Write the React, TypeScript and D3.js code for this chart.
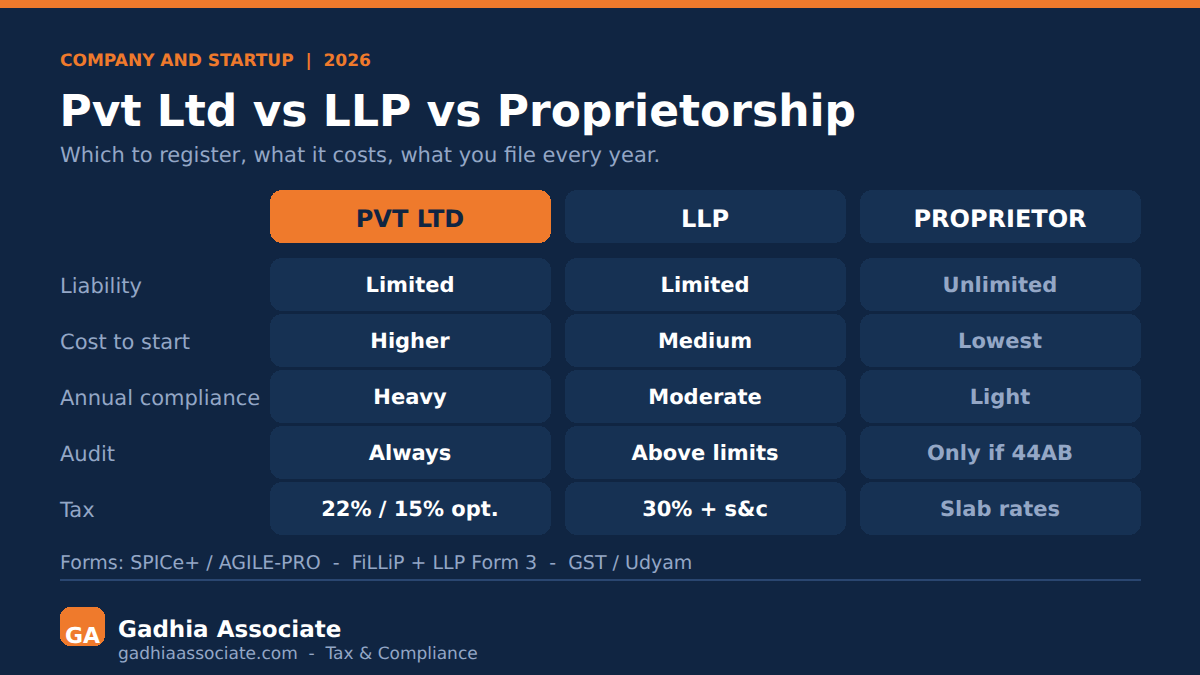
import React from "react";
import * as d3 from "d3";

const rowLabels = ["Liability", "Cost to start", "Annual compliance", "Audit", "Tax"];
const columns = ["PVT LTD", "LLP", "PROPRIETOR"];
const pvt = ["Limited", "Higher", "Heavy", "Always", "22% / 15% opt."];
const llp = ["Limited", "Medium", "Moderate", "Above limits", "30% + s&c"];
const prop = ["Unlimited", "Lowest", "Light", "Only if 44AB", "Slab rates"];
const series = [pvt, llp, prop];

const F = "'DejaVu Sans', sans-serif";
const BG = "#102542";
const CELL = "#163153";
const ORANGE = "#ef7a2c";
const MUTED = "#94a7c6";

const x = d3.scaleBand<number>().domain([0, 1, 2]).range([270, 1141]).paddingInner(14 / 295).paddingOuter(0);
const y = d3.scalePoint<number>().domain([0, 1, 2, 3, 4]).range([258, 482]);
const cellH = 53;

export default function App() {
  return (
    <svg width={1200} height={675} viewBox="0 0 1200 675" style={{ position: "fixed", left: 0, top: 0 }} fontFamily={F} textRendering="geometricPrecision">
      <rect width={1200} height={675} fill={BG} />
      <rect width={1200} height={8} fill={ORANGE} />
      <text x={60} y={66} fontSize={17} fontWeight={700} fill={ORANGE} xmlSpace="preserve">COMPANY AND STARTUP  |  2026</text>
      <text x={59.5} y={126} fontSize={44} fontWeight={700} fill="#fff">Pvt Ltd vs LLP vs Proprietorship</text>
      <text x={60} y={162} fontSize={21} fill={MUTED}>Which to register, what it costs, what you file every year.</text>
      {columns.map((c, i) => (
        <g key={c}>
          <rect x={x(i)} y={190} width={x.bandwidth()} height={53} rx={12} fill={i === 0 ? ORANGE : CELL} shapeRendering="crispEdges" />
          <text x={x(i)! + x.bandwidth() / 2 - 0.5} y={227} textAnchor="middle" fontSize={24} fontWeight={700} fill={i === 0 ? BG : "#fff"}>{c}</text>
        </g>
      ))}
      {rowLabels.map((r, j) => (
        <text key={r} x={60} y={y(j)! + 35} fontSize={21} fill={MUTED}>{r}</text>
      ))}
      {series.map((vals, i) => vals.map((v, j) => (
        <g key={i + "-" + j}>
          <rect x={x(i)} y={y(j)} width={x.bandwidth()} height={cellH} rx={12} fill={CELL} shapeRendering="crispEdges" />
          <text x={x(i)! + x.bandwidth() / 2 - 0.5} y={y(j)! + 34} textAnchor="middle" fontSize={21} fontWeight={700} fill={i === 2 ? MUTED : "#fff"}>{v}</text>
        </g>
      )))}
      <text x={60} y={569} fontSize={19} fill={MUTED} xmlSpace="preserve">Forms: SPICe+ / AGILE-PRO  -  FiLLiP + LLP Form 3  -  GST / Udyam</text>
      <line x1={60} x2={1141} y1={580} y2={580} stroke="#2a4670" strokeWidth={2} />
      <rect x={60} y={607} width={45} height={39} rx={10} fill={ORANGE} shapeRendering="crispEdges" />
      <text x={82.5} y={643} textAnchor="middle" fontSize={22} fontWeight={700} fill="#fff">GA</text>
      <text x={118} y={637} fontSize={23} fontWeight={700} fill="#fff">Gadhia Associate</text>
      <text x={118} y={659} fontSize={17} fill={MUTED} xmlSpace="preserve">gadhiaassociate.com  -  Tax &amp; Compliance</text>
    </svg>
  );
}
